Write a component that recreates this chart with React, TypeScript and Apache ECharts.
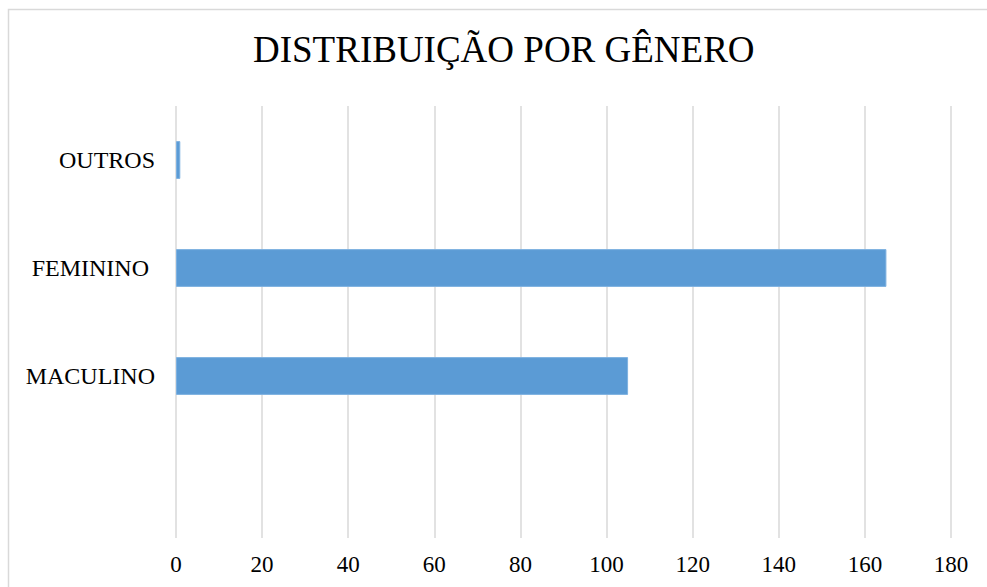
import React, { useEffect, useRef } from "react";
import * as echarts from "echarts";

const categories = ["", "MACULINO", "FEMININO ", "OUTROS"];
const values: (number | null)[] = [null, 105, 165, 1];
const xTicks = { min: 0, max: 180, interval: 20 };
const titleText = "DISTRIBUIÇÃO POR GÊNERO";

export default function App() {
  const ref = useRef<HTMLDivElement>(null);
  useEffect(() => {
    if (!ref.current) return;
    const chart = echarts.init(ref.current, undefined, { renderer: "svg" });
    const font = "'Liberation Serif', 'Times New Roman', serif";
    chart.setOption({
      animation: false,
      backgroundColor: "#ffffff",
      title: {
        text: titleText,
        left: 253,
        top: 31,
        padding: 0,
        textStyle: { fontFamily: font, fontSize: 37, fontWeight: "normal", color: "#000000" },
      },
      graphic: [
        {
          type: "rect",
          shape: { x: 8.5, y: 9.5, width: 1000, height: 600 },
          style: { fill: "none", stroke: "#d9d9d9", lineWidth: 1.5 },
          silent: true,
        },
      ],
      grid: { left: 176, right: 36, top: 106, bottom: 49, containLabel: false },
      xAxis: {
        type: "value",
        min: xTicks.min,
        max: xTicks.max,
        interval: xTicks.interval,
        axisLine: { show: false },
        axisTick: { show: false },
        axisLabel: { fontFamily: font, fontSize: 23, color: "#000000", margin: 15 },
        splitLine: { show: true, lineStyle: { color: "#d9d9d9", width: 1.5 } },
      },
      yAxis: {
        type: "category",
        data: categories,
        axisLine: { show: false },
        axisTick: { show: false },
        axisLabel: { fontFamily: font, fontSize: 24, color: "#000000", margin: 21 },
        splitLine: { show: false },
      },
      series: [
        {
          type: "bar",
          data: values,
          barWidth: "35%",
          itemStyle: { color: "#5b9bd5", borderColor: "#7eb1e0", borderWidth: 1 },
        },
      ],
    });
    return () => chart.dispose();
  }, []);
  return (
    <div
      ref={ref}
      style={{ position: "absolute", left: 0, top: 0, width: 987, height: 587 }}
    />
  );
}
